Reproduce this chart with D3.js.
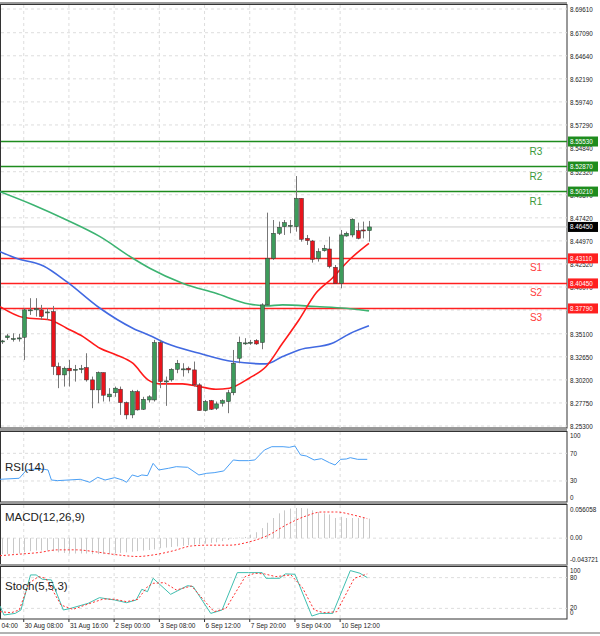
<!DOCTYPE html>
<html><head><meta charset="utf-8">
<script src="https://cdn.jsdelivr.net/npm/d3@7"></script>
<style>body{margin:0;background:#fff}svg{display:block;font-family:"Liberation Sans",Arial,sans-serif}</style>
</head><body><div id="chart-area"></div>
<script>
// 4H candles [open, high, low, close]
const candles = [
[8.3427,8.3445,8.3402,8.3434],[8.3469,8.3508,8.3445,8.3487],[8.3455,8.3515,8.3427,8.3459],[8.3455,8.3508,8.3427,8.3466],
[8.3473,8.3781,8.3232,8.3764],[8.3756,8.3888,8.3710,8.3764],[8.3764,8.3888,8.3693,8.3778],[8.3764,8.3817,8.3657,8.3693],
[8.3735,8.3781,8.3657,8.3742],[8.3746,8.3806,8.3073,8.3162],[8.3162,8.3204,8.2932,8.3073],[8.3073,8.3162,8.2949,8.3144],
[8.3144,8.3232,8.2949,8.3116],[8.3126,8.3179,8.3002,8.3133],[8.3133,8.3179,8.3091,8.3140],[8.3151,8.3303,8.3002,8.3020],
[8.3020,8.3055,8.2719,8.2914],[8.2914,8.3109,8.2772,8.3098],[8.3098,8.3098,8.2790,8.2857],[8.2840,8.2932,8.2790,8.2869],
[8.2883,8.2949,8.2840,8.2932],[8.2921,8.2949,8.2648,8.2779],[8.2779,8.2790,8.2602,8.2648],[8.2648,8.2914,8.2613,8.2896],
[8.2896,8.2914,8.2694,8.2701],[8.2708,8.2840,8.2701,8.2814],[8.2807,8.2857,8.2779,8.2840],[8.2807,8.3445,8.2790,8.3417],
[8.3417,8.3445,8.2932,8.3002],[8.3002,8.3055,8.2744,8.3009],[8.3020,8.3144,8.3002,8.3133],[8.3133,8.3232,8.3091,8.3197],
[8.3130,8.3197,8.3055,8.3137],[8.3144,8.3162,8.3091,8.3126],[8.3126,8.3215,8.2949,8.2967],[8.2967,8.2985,8.2694,8.2694],
[8.2694,8.2807,8.2684,8.2790],[8.2800,8.2807,8.2701,8.2708],[8.2719,8.2790,8.2701,8.2765],[8.2772,8.2814,8.2737,8.2800],
[8.2790,8.2914,8.2666,8.2883],[8.2883,8.3338,8.2857,8.3197],[8.3250,8.3480,8.3197,8.3420],[8.3406,8.3463,8.3392,8.3413],
[8.3413,8.3445,8.3392,8.3420],[8.3438,8.3452,8.3392,8.3402],[8.3417,8.3834,8.3346,8.3817],[8.3817,8.4797,8.3806,8.4312],
[8.4312,8.4719,8.4294,8.4578],[8.4578,8.4702,8.4560,8.4641],[8.4648,8.4719,8.4560,8.4691],[8.4655,8.4719,8.4578,8.4662],
[8.4648,8.5186,8.4595,8.4949],[8.4949,8.4949,8.4489,8.4514],[8.4524,8.4560,8.4454,8.4500],[8.4496,8.4507,8.4266,8.4301],
[8.4312,8.4418,8.4277,8.4383],[8.4393,8.4454,8.4383,8.4418],[8.4411,8.4542,8.4206,8.4224],[8.4217,8.4241,8.4040,8.4047],
[8.4047,8.4613,8.3993,8.4560],[8.4549,8.4595,8.4542,8.4578],[8.4560,8.4737,8.4535,8.4726],[8.4606,8.4691,8.4514,8.4524],
[8.4613,8.4702,8.4524,8.4602],[8.4606,8.4709,8.4489,8.4645]
];
const lastPrice = 8.4645;
// moving averages sampled [candle index, price]
const maRed = [[-0.3,8.3799],[3.9,8.3682],[8.5,8.3657],[11.5,8.3569],[14.4,8.3480],[17.4,8.3356],[20.3,8.3285],[23.2,8.3197],[25.9,8.3020],[27.9,8.2978],[32,8.2978],[35,8.2949],[37.9,8.2921],[40.3,8.2932],[43.8,8.3038],[46.8,8.3162],[49.7,8.3409],[52.6,8.3657],[55.6,8.3940],[58.5,8.4100],[61.5,8.4294],[65,8.4470]];
const maBlue = [[-0.3,8.4383],[2.6,8.4312],[7.4,8.4231],[11.5,8.4064],[17.4,8.3781],[23.2,8.3569],[26.2,8.3491],[29.1,8.3409],[35,8.3303],[40.9,8.3215],[46.8,8.3190],[49.7,8.3268],[52.6,8.3338],[58.5,8.3409],[61.5,8.3508],[65,8.3594]];
const maGreen = [[-0.3,8.5020],[5.6,8.4879],[11.5,8.4719],[17.4,8.4542],[23.2,8.4312],[26.2,8.4206],[32,8.4047],[37.9,8.3940],[43.8,8.3827],[46.8,8.3806],[49.7,8.3817],[55.6,8.3799],[60.9,8.3781],[65,8.3753]];
const resist = [["R1",8.50210],["R2",8.52870],["R3",8.55530]];
const support = [["S1",8.43110],["S2",8.40450],["S3",8.37790]];
const priceTicks = ["8.69610","8.67090","8.64640","8.62190","8.59740","8.57290","8.54840","8.52320","8.49870","8.47420","8.44970","8.42520","8.40070","8.37620","8.35100","8.32650","8.30200","8.27750","8.25300"];
const timeLabels = [[-4.1,"29 Aug 04:00"],[3.9,"30 Aug 08:00"],[11.9,"31 Aug 16:00"],[19.9,"2 Sep 00:00"],[27.9,"3 Sep 08:00"],[35.9,"6 Sep 12:00"],[43.9,"7 Sep 20:00"],[51.9,"9 Sep 04:00"],[59.9,"10 Sep 12:00"]];
const rsi = [[-0.3,32.4],[3.1,33.9],[4.4,45.9],[5.1,46.9],[7.5,46.9],[8.2,45.9],[8.8,31.4],[9.9,30.5],[13.9,32.4],[15.6,28.1],[17,35.3],[18.3,31.4],[20,34.8],[21.4,31.4],[22.1,28.1],[23.1,38.7],[24.1,36.3],[24.8,38.7],[25.8,37.7],[26.8,55.5],[27.8,45.9],[29.5,48.3],[30.9,50.7],[32.9,49.8],[34.9,38.7],[36.3,41.1],[37.6,42.0],[39.3,44.5],[41,60.4],[42,59.4],[43.7,59.4],[44.8,60.4],[46.5,74.8],[47.8,79.6],[49.8,79.6],[50.9,78.7],[51.9,80.6],[52.9,67.6],[53.9,66.2],[55.3,60.4],[56.6,62.3],[58,56.5],[59,53.1],[60,61.3],[61,61.8],[61.7,63.7],[63,61.3],[64.7,61.3]];
const macdHist = [-0.027,-0.027,-0.026,-0.026,-0.024,-0.022,-0.021,-0.021,-0.021,-0.022,-0.024,-0.025,-0.026,-0.026,-0.026,-0.026,-0.027,-0.027,-0.027,-0.027,-0.026,-0.025,-0.024,-0.023,-0.022,-0.021,-0.020,-0.019,-0.017,-0.016,-0.015,-0.014,-0.013,-0.012,-0.011,-0.010,-0.009,-0.008,-0.007,-0.005,-0.003,-0.001,0.001,0.002,0.006,0.010,0.017,0.026,0.034,0.042,0.047,0.050,0.051,0.051,0.050,0.047,0.044,0.042,0.040,0.034,0.036,0.034,0.034,0.034,0.034,0.033];
const macdSignal = [[-0.3,-0.0297],[3.1,-0.0271],[6.5,-0.0244],[9.9,-0.0198],[13.2,-0.0198],[16.6,-0.0231],[20,-0.0277],[24.1,-0.0310],[26.8,-0.0284],[30.2,-0.0218],[33.6,-0.0132],[36.3,-0.0119],[40.3,-0.0119],[43.7,-0.0066],[47.1,0.0046],[50.5,0.0231],[53.9,0.0376],[56.6,0.0442],[59.3,0.0442],[62,0.0396],[64.7,0.0330]];
const stochMain = [[-0.3,24.6],[0.4,7.0],[2.4,10.2],[3.4,16.8],[5.1,85.3],[6.1,85.3],[7.2,76.8],[8.8,75.5],[10.9,16.8],[12.2,20.0],[15.3,29.8],[17.3,40.9],[20,36.3],[22.1,31.1],[23.8,36.3],[24.8,57.2],[25.8,52.6],[26.8,78.7],[29.9,47.4],[32.9,64.4],[33.9,62.4],[37,10.2],[39,16.8],[41.7,89.8],[43.7,89.8],[46.1,89.8],[46.8,78.7],[49.2,78.7],[50.2,87.3],[51.9,86.6],[54.9,5.0],[56.3,10.2],[58.6,10.2],[61.7,93.8],[63.4,88.6],[64.7,80.0]];
const stochSignal = [[-0.3,13.5],[1.7,11.5],[3.1,16.8],[4.8,68.9],[6.5,82.0],[7.8,78.7],[10.5,26.5],[12.6,18.0],[15.3,28.5],[18,38.3],[20,37.7],[22.1,33.1],[24.1,37.7],[25.8,62.4],[26.8,68.9],[28.8,70.3],[30.9,55.9],[33.6,63.7],[36,33.1],[37.6,13.5],[39.7,20.0],[43.1,82.0],[44.8,88.6],[46.5,87.3],[48.5,82.0],[51.2,85.3],[53.2,61.1],[55.3,16.8],[57,11.5],[59.3,13.5],[62.4,78.7],[64.7,87.3]];

const W = 600, H = 636, plotR = 567;
const svg = d3.select("#chart-area").append("svg").attr("width", W).attr("height", H);
const x = d3.scaleLinear().domain([0, 1]).range([1.7, 7.35]);
const gridXs = timeLabels.map(d => x(d[0]));

function panel(top, bottom) {
    svg.append("line").attr("x1", 0).attr("x2", plotR).attr("y1", top).attr("y2", top).attr("stroke", "#999").attr("stroke-width", 2);
    svg.append("rect").attr("x", 0.5).attr("y", top + 1.5).attr("width", plotR - 0.5).attr("height", bottom - top - 1.5)
        .attr("fill", "none").attr("stroke", "#333").attr("stroke-width", 1);
    gridXs.forEach(gx => svg.append("line").attr("x1", gx).attr("x2", gx).attr("y1", top + 2).attr("y2", bottom)
        .attr("stroke", "#ddd").attr("stroke-dasharray", "3,3"));
}
function hgrid(y) {
    svg.append("line").attr("x1", 1).attr("x2", plotR).attr("y1", y).attr("y2", y).attr("stroke", "#ddd").attr("stroke-dasharray", "3,3");
}
function axisLabel(y, txt) {
    svg.append("text").attr("x", plotR + 3).attr("y", y).attr("dy", "0.35em").attr("font-size", 6.3).attr("fill", "#222").text(txt);
}

// ---- main price panel
panel(3, 428);
const y = d3.scaleLinear().domain([8.25300, 8.69610]).range([426, 9]);
priceTicks.forEach(t => { hgrid(y(+t)); axisLabel(y(+t) + 1, t); });
svg.append("line").attr("x1", 1).attr("x2", plotR).attr("y1", y(lastPrice)).attr("y2", y(lastPrice)).attr("stroke", "#ccc");

const levels = resist.map(d => [d[0], d[1], "#1e8c1e", "#3a9a3a"]).concat(support.map(d => [d[0], d[1], "#ff2020", "#ff4040"]));
levels.forEach(([name, v, c, tc]) => {
    svg.append("line").attr("x1", 1).attr("x2", plotR).attr("y1", y(v)).attr("y2", y(v)).attr("stroke", c).attr("stroke-width", 1.5);
    svg.append("text").attr("x", 536).attr("y", y(v) + 13).attr("text-anchor", "middle").attr("font-size", 10).attr("fill", tc).text(name);
});

const line = d3.line().x(d => x(d[0])).y(d => y(d[1])).curve(d3.curveMonotoneX);
[[maGreen, "#3cb371"], [maBlue, "#4169e1"], [maRed, "#ff1a1a"]].forEach(([data, c]) =>
    svg.append("path").attr("d", line(data)).attr("fill", "none").attr("stroke", c).attr("stroke-width", 1.6));

const cg = svg.append("g");
candles.forEach((d, i) => {
    const [o, h, l, c] = d;
    const cx = Math.round(x(i)) + 0.5;
    cg.append("line").attr("x1", cx).attr("x2", cx).attr("y1", y(h)).attr("y2", y(l)).attr("stroke", "#777");
    const top = y(Math.max(o, c)), bot = y(Math.min(o, c));
    cg.append("rect").attr("x", cx - 2).attr("y", top).attr("width", 4).attr("height", Math.max(1, bot - top))
        .attr("fill", c >= o ? "#3d9b5b" : "#e8141c").attr("stroke", "#333").attr("stroke-width", 0.5);
});

// badges on price axis
function badge(v, bg, txt) {
    svg.append("rect").attr("x", plotR + 1).attr("y", y(v) - 5).attr("width", 30).attr("height", 10).attr("fill", bg);
    svg.append("text").attr("x", plotR + 3).attr("y", y(v)).attr("dy", "0.35em").attr("font-size", 6.3).attr("fill", "#fff").text(txt);
}
resist.forEach(d => badge(d[1], "#1e8c1e", d[1].toFixed(5)));
support.forEach(d => badge(d[1], "#ff2020", d[1].toFixed(5)));
badge(lastPrice, "#000", lastPrice.toFixed(5));

// ---- RSI panel
panel(430, 502);
const yR = d3.scaleLinear().domain([0, 100]).range([501.7, 432.6]);
[70, 30].forEach(v => hgrid(yR(v)));
axisLabel(436, "100"); axisLabel(yR(70), "70"); axisLabel(yR(30), "30"); axisLabel(498, "0");
svg.append("path").attr("d", d3.line().x(d => x(d[0])).y(d => yR(d[1]))(rsi)).attr("fill", "none").attr("stroke", "#4a9ff5").attr("stroke-width", 1);
svg.append("text").attr("x", 5).attr("y", 471).attr("font-size", 11.5).attr("fill", "#222").text("RSI(14)");

// ---- MACD panel
panel(503, 565);
const yM = d3.scaleLinear().domain([-0.043721, 0.056058]).range([564, 505]);
hgrid(yM(0));
axisLabel(510, "0.056058"); axisLabel(yM(0), "0.00"); axisLabel(560, "-0.043721");
macdHist.forEach((v, i) => {
    const cx = Math.round(x(i)) + 0.5;
    svg.append("line").attr("x1", cx).attr("x2", cx).attr("y1", yM(0)).attr("y2", yM(v)).attr("stroke", "#c8c8c8");
});
svg.append("path").attr("d", d3.line().x(d => x(d[0])).y(d => yM(d[1])).curve(d3.curveMonotoneX)(macdSignal))
    .attr("fill", "none").attr("stroke", "#ff3030").attr("stroke-width", 1).attr("stroke-dasharray", "2,2");
svg.append("text").attr("x", 5).attr("y", 521).attr("font-size", 11.5).attr("fill", "#222").text("MACD(12,26,9)");

// ---- Stochastic panel
panel(565, 619);
const yS = d3.scaleLinear().domain([0, 100]).range([618.6, 567.4]);
[80, 20].forEach(v => hgrid(yS(v)));
axisLabel(571, "100"); axisLabel(578, "80"); axisLabel(608, "20"); axisLabel(613, "0");
svg.append("path").attr("d", d3.line().x(d => x(d[0])).y(d => yS(d[1]))(stochMain)).attr("fill", "none").attr("stroke", "#3fbfb0").attr("stroke-width", 1);
svg.append("path").attr("d", d3.line().x(d => x(d[0])).y(d => yS(d[1]))(stochSignal)).attr("fill", "none").attr("stroke", "#ff3030").attr("stroke-width", 1).attr("stroke-dasharray", "2,2");
svg.append("text").attr("x", 5).attr("y", 590).attr("font-size", 11.5).attr("fill", "#222").text("Stoch(5,5,3)");

// ---- time axis
timeLabels.forEach(([i, t]) => {
    svg.append("line").attr("x1", x(i)).attr("x2", x(i)).attr("y1", 619).attr("y2", 622).attr("stroke", "#333");
    svg.append("text").attr("x", x(i) + 1).attr("y", 626).attr("dy", "0.35em").attr("font-size", 6.5).attr("fill", "#222").text(t);
});
svg.append("line").attr("x1", 0).attr("x2", W).attr("y1", 633).attr("y2", 633).attr("stroke", "#666");
</script></body></html>
